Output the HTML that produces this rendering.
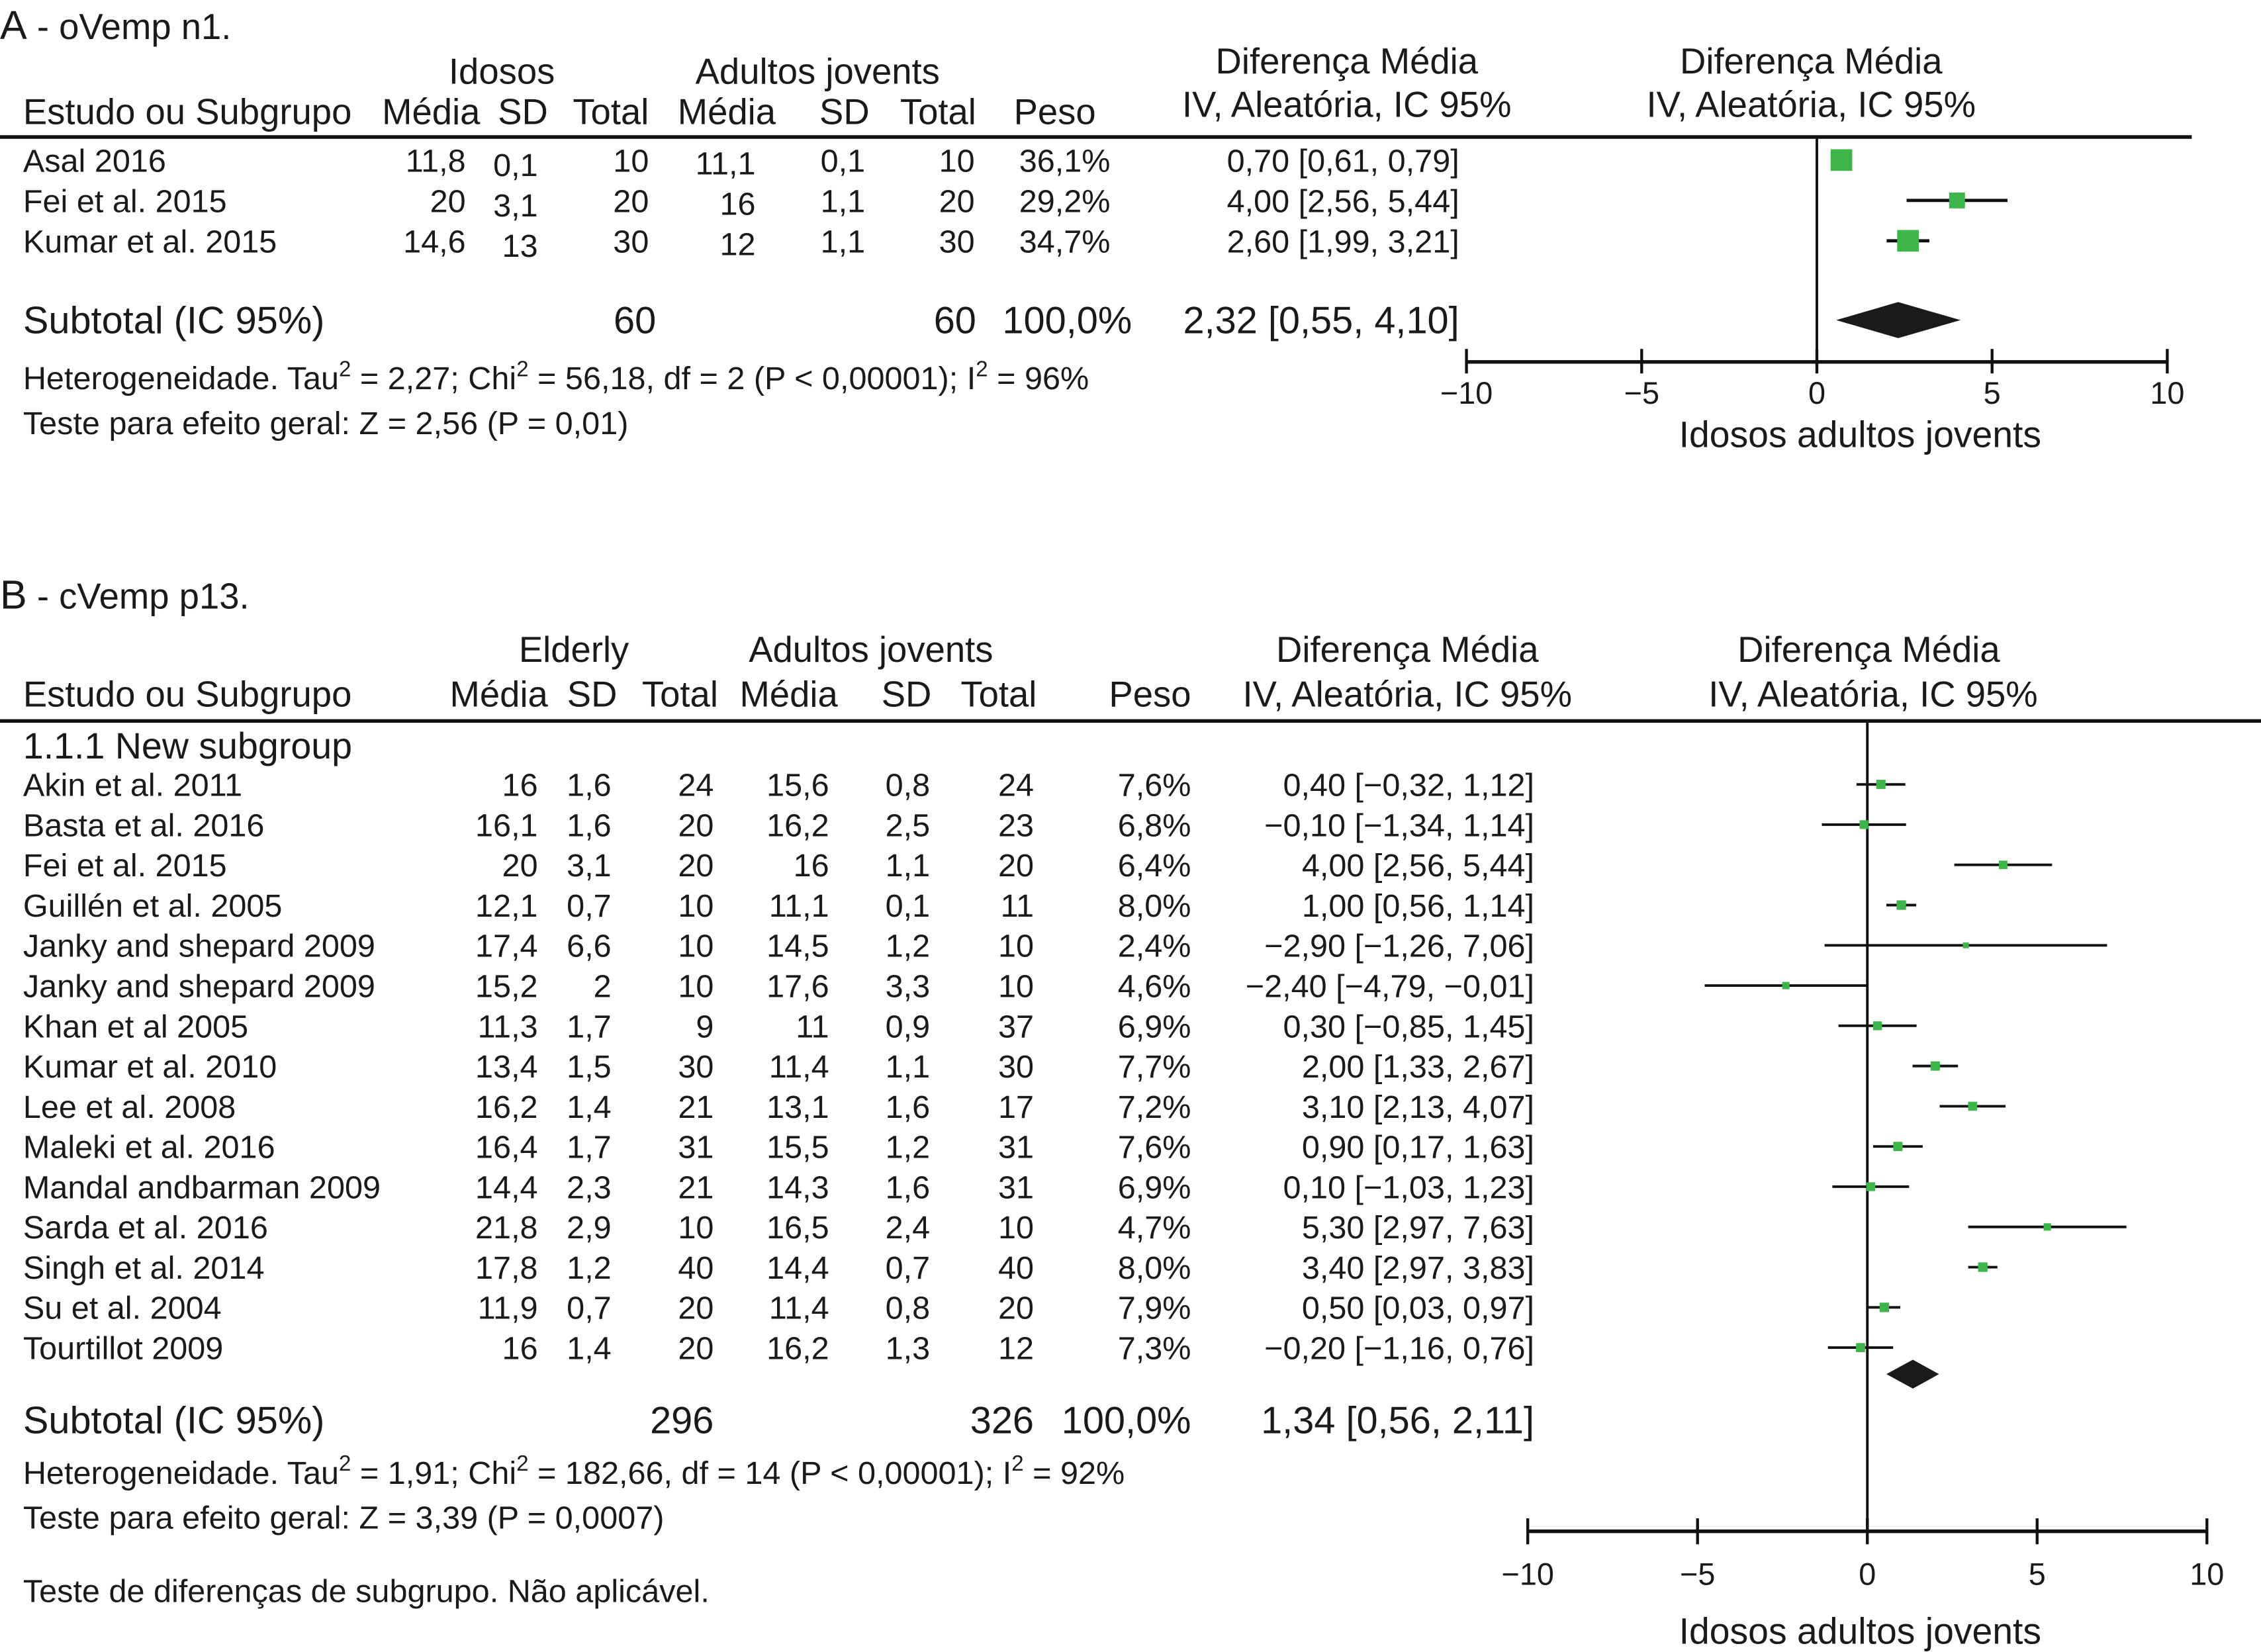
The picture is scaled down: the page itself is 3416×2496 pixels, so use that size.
<!DOCTYPE html>
<html><head><meta charset="utf-8">
<style>
html,body{margin:0;padding:0;background:#fff;}
svg{display:block;}
text{font-family:"Liberation Sans",sans-serif;fill:#1a1a1a;}
</style></head>
<body>
<svg id="chart" width="3416" height="2496" viewBox="0 0 1568 1145.7" xmlns="http://www.w3.org/2000/svg"></svg>
<script>
// ---------- Panel A data ----------
const aStudies = ["Asal 2016","Fei et al. 2015","Kumar et al. 2015"];
const aOldMean = ["11,8","20","14,6"];
const aOldSD = ["0,1","3,1","13"];
const aOldN = ["10","20","30"];
const aYoungMean = ["11,1","16","12"];
const aYoungSD = ["0,1","1,1","1,1"];
const aYoungN = ["10","20","30"];
const aWeight = ["36,1%","29,2%","34,7%"];
const aCIText = ["0,70 [0,61, 0,79]","4,00 [2,56, 5,44]","2,60 [1,99, 3,21]"];
const aMD = [0.70, 4.00, 2.60];
const aLo = [0.61, 2.56, 1.99];
const aHi = [0.79, 5.44, 3.21];
const aBox = [15, 11, 15];
const aPooled = [0.55, 2.32, 4.10];
const aTicks = [-10, -5, 0, 5, 10];
const aTickLabels = ["\u221210","\u22125","0","5","10"];

// ---------- Panel B data ----------
const bStudies = ["Akin et al. 2011","Basta et al. 2016","Fei et al. 2015","Guill\u00e9n et al. 2005","Janky and shepard 2009","Janky and shepard 2009","Khan et al 2005","Kumar et al. 2010","Lee et al. 2008","Maleki et al. 2016","Mandal andbarman 2009","Sarda et al. 2016","Singh et al. 2014","Su et al. 2004","Tourtillot 2009"];
const bOldMean = ["16","16,1","20","12,1","17,4","15,2","11,3","13,4","16,2","16,4","14,4","21,8","17,8","11,9","16"];
const bOldSD = ["1,6","1,6","3,1","0,7","6,6","2","1,7","1,5","1,4","1,7","2,3","2,9","1,2","0,7","1,4"];
const bOldN = ["24","20","20","10","10","10","9","30","21","31","21","10","40","20","20"];
const bYoungMean = ["15,6","16,2","16","11,1","14,5","17,6","11","11,4","13,1","15,5","14,3","16,5","14,4","11,4","16,2"];
const bYoungSD = ["0,8","2,5","1,1","0,1","1,2","3,3","0,9","1,1","1,6","1,2","1,6","2,4","0,7","0,8","1,3"];
const bYoungN = ["24","23","20","11","10","10","37","30","17","31","31","10","40","20","12"];
const bWeight = ["7,6%","6,8%","6,4%","8,0%","2,4%","4,6%","6,9%","7,7%","7,2%","7,6%","6,9%","4,7%","8,0%","7,9%","7,3%"];
const bCIText = ["0,40 [\u22120,32, 1,12]","\u22120,10 [\u22121,34, 1,14]","4,00 [2,56, 5,44]","1,00 [0,56, 1,14]","\u22122,90 [\u22121,26, 7,06]","\u22122,40 [\u22124,79, \u22120,01]","0,30 [\u22120,85, 1,45]","2,00 [1,33, 2,67]","3,10 [2,13, 4,07]","0,90 [0,17, 1,63]","0,10 [\u22121,03, 1,23]","5,30 [2,97, 7,63]","3,40 [2,97, 3,83]","0,50 [0,03, 0,97]","\u22120,20 [\u22121,16, 0,76]"];
const bMD = [0.40,-0.10,4.00,1.00,2.90,-2.40,0.30,2.00,3.10,0.90,0.10,5.30,3.40,0.50,-0.20];
const bLo = [-0.32,-1.34,2.56,0.56,-1.26,-4.79,-0.85,1.33,2.13,0.17,-1.03,2.97,2.97,0.03,-1.16];
const bHi = [1.12,1.14,5.44,1.44,7.06,-0.01,1.45,2.67,4.07,1.63,1.23,7.63,3.83,0.97,0.76];
const bWeightNum = [7.6,6.8,6.4,8.0,2.4,4.6,6.9,7.7,7.2,7.6,6.9,4.7,8.0,7.9,7.3];
const bPooled = [0.56, 1.34, 2.11];
const bTicks = [-10, -5, 0, 5, 10];
const bTickLabels = ["\u221210","\u22125","0","5","10"];

const NS = "http://www.w3.org/2000/svg";
const svg = document.getElementById("chart");
function el(tag, attrs, parent){
  const e = document.createElementNS(NS, tag);
  for (const k in attrs) e.setAttribute(k, attrs[k]);
  (parent||svg).appendChild(e);
  return e;
}
function txt(x, y, s, size, anchor, name){
  const t = el("text", {x:x, y:y, "font-size":size, "text-anchor":anchor||"start"});
  t.textContent = s;
  
  
  return t;
}
function line(x1,y1,x2,y2,w,name){
  const l = el("line",{x1:x1,y1:y1,x2:x2,y2:y2,stroke:"#111","stroke-width":w});
  
  
  return l;
}
function supText(x, y, parts, size, name){
  const t = el("text",{x:x,y:y,"font-size":size});
  
  
  parts.forEach(p=>{
    const ts = el("tspan", p[1] ? {"font-size":size*0.68, dy:-9} : {"font-size":size, dy:p[2]||0}, t);
    ts.textContent = p[0];
  });
  return t;
}
const HS = 25;   // header size
const RS = 22.3; // row size
const SS = 26.5; // subtotal size
const NSZ = 22.3; // notes size

// ================= PANEL A =================
const ax = v => 1260 + v * 24.3;
{
  const t = el("text",{x:0,y:27});
  
  
  const t1 = el("tspan",{"font-size":28},t); t1.textContent="A";
  const t2 = el("tspan",{"font-size":25},t); t2.textContent=" - oVemp n1.";
}
txt(348,58,"Idosos",HS,"middle","a-group-elderly-header");
txt(567,58,"Adultos jovents",HS,"middle","a-group-young-header");
txt(934,51,"Diferença Média",HS,"middle","a-effect-header");
txt(934,81,"IV, Aleatória, IC 95%",HS,"middle","a-effect-subheader");
txt(1256,51,"Diferença Média",HS,"middle","a-plot-header");
txt(1256,81,"IV, Aleatória, IC 95%",HS,"middle","a-plot-subheader");
txt(16,86,"Estudo ou Subgrupo",HS,"start","a-study-col-header");
txt(333,86,"Média",HS,"end","a-old-mean-header");
txt(380,86,"SD",HS,"end","a-old-sd-header");
txt(450,86,"Total",HS,"end","a-old-total-header");
txt(538,86,"Média",HS,"end","a-young-mean-header");
txt(603,86,"SD",HS,"end","a-young-sd-header");
txt(677,86,"Total",HS,"end","a-young-total-header");
txt(760,86,"Peso",HS,"end","a-weight-header");
line(0,95,1520,95,2.5,"a-header-rule");
line(ax(0),95,ax(0),251,1.8,"a-zero-line");

aStudies.forEach((s,i)=>{
  const y = 119 + i*28;
  txt(16,y,s,RS,"start","a-study-name");
  txt(323,y,aOldMean[i],RS,"end","a-old-mean");
  txt(373,y+3,aOldSD[i],RS,"end","a-old-sd");
  txt(450,y,aOldN[i],RS,"end","a-old-total");
  txt(524,y+2,aYoungMean[i],RS,"end","a-young-mean");
  txt(600,y,aYoungSD[i],RS,"end","a-young-sd");
  txt(676,y,aYoungN[i],RS,"end","a-young-total");
  txt(770,y,aWeight[i],RS,"end","a-weight");
  txt(1012,y,aCIText[i],RS,"end","a-ci-text");
  const cy = y - 8;
  line(ax(aLo[i]),cy,ax(aHi[i]),cy,2.2,"a-ci-line");
  const b = aBox[i];
  const r = el("rect",{x:ax(aMD[i])-b/2,y:cy-b/2,width:b,height:b,fill:"#3db54a"});
  
  
});
txt(16,231,"Subtotal (IC 95%)",SS,"start","a-subtotal-label");
txt(455,231,"60",SS,"end","a-subtotal-old-total");
txt(677,231,"60",SS,"end","a-subtotal-young-total");
txt(785,231,"100,0%",SS,"end","a-subtotal-weight");
txt(1012,231,"2,32 [0,55, 4,10]",SS,"end","a-subtotal-ci");
{
  const cy=222, h=12.5;
  const d = el("polygon",{points:`${ax(aPooled[0])},${cy} ${ax(aPooled[1])},${cy-h} ${ax(aPooled[2])},${cy} ${ax(aPooled[1])},${cy+h}`,fill:"#1a1a1a"});
  
  
}
supText(16,270,[["Heterogeneidade. Tau"],["2",1],[" = 2,27; Chi",0,9],["2",1],[" = 56,18, df = 2 (P < 0,00001); I",0,9],["2",1],[" = 96%",0,9]],NSZ,"a-heterogeneity-text");
txt(16,301,"Teste para efeito geral: Z = 2,56 (P = 0,01)",NSZ,"start","a-overall-effect-text");
line(ax(-10),251,ax(10),251,2.5,"a-x-axis");
aTicks.forEach((v,i)=>{
  line(ax(v),242,ax(v),259,2,"a-x-tick");
  txt(ax(v),280,aTickLabels[i],21.5,"middle","a-x-tick-label");
});
txt(1290,310,"Idosos adultos jovents",25.4,"middle","a-x-axis-title");

// ================= PANEL B =================
const bx = v => 1295 + v * 23.55;
{
  const t = el("text",{x:0,y:422});
  
  
  const t1 = el("tspan",{"font-size":28},t); t1.textContent="B";
  const t2 = el("tspan",{"font-size":25},t); t2.textContent=" - cVemp p13.";
}
txt(398,459,"Elderly",HS,"middle","b-group-elderly-header");
txt(604,459,"Adultos jovents",HS,"middle","b-group-young-header");
txt(976,459,"Diferença Média",HS,"middle","b-effect-header");
txt(976,490,"IV, Aleatória, IC 95%",HS,"middle","b-effect-subheader");
txt(1296,459,"Diferença Média",HS,"middle","b-plot-header");
txt(1299,490,"IV, Aleatória, IC 95%",HS,"middle","b-plot-subheader");
txt(16,490,"Estudo ou Subgrupo",HS,"start","b-study-col-header");
txt(380,490,"Média",HS,"end","b-old-mean-header");
txt(428,490,"SD",HS,"end","b-old-sd-header");
txt(498,490,"Total",HS,"end","b-old-total-header");
txt(581,490,"Média",HS,"end","b-young-mean-header");
txt(646,490,"SD",HS,"end","b-young-sd-header");
txt(719,490,"Total",HS,"end","b-young-total-header");
txt(826,490,"Peso",HS,"end","b-weight-header");
line(0,500,1568,500,2.5,"b-header-rule");
line(bx(0),500,bx(0),1062,1.8,"b-zero-line");
txt(16,526,"1.1.1 New subgroup",25.5,"start","b-subgroup-label");

bStudies.forEach((s,i)=>{
  const y = 552 + i*27.9;
  txt(16,y,s,RS,"start","b-study-name");
  txt(373,y,bOldMean[i],RS,"end","b-old-mean");
  txt(424,y,bOldSD[i],RS,"end","b-old-sd");
  txt(495,y,bOldN[i],RS,"end","b-old-total");
  txt(575,y,bYoungMean[i],RS,"end","b-young-mean");
  txt(645,y,bYoungSD[i],RS,"end","b-young-sd");
  txt(717,y,bYoungN[i],RS,"end","b-young-total");
  txt(826,y,bWeight[i],RS,"end","b-weight");
  txt(1064,y,bCIText[i],RS,"end","b-ci-text");
  const cy = y - 8;
  line(bx(bLo[i]),cy,bx(bHi[i]),cy,1.8,"b-ci-line");
  const b = 3 + bWeightNum[i]*0.45;
  const r = el("rect",{x:bx(bMD[i])-b/2,y:cy-b/2,width:b,height:b,fill:"#3db54a"});
  
  
});
txt(16,994,"Subtotal (IC 95%)",SS,"start","b-subtotal-label");
txt(495,994,"296",SS,"end","b-subtotal-old-total");
txt(717,994,"326",SS,"end","b-subtotal-young-total");
txt(826,994,"100,0%",SS,"end","b-subtotal-weight");
txt(1064,994,"1,34 [0,56, 2,11]",SS,"end","b-subtotal-ci");
{
  const cy=953, h=10;
  const d = el("polygon",{points:`${bx(bPooled[0])},${cy} ${bx(bPooled[1])},${cy-h} ${bx(bPooled[2])},${cy} ${bx(bPooled[1])},${cy+h}`,fill:"#1a1a1a"});
  
  
}
supText(16,1029,[["Heterogeneidade. Tau"],["2",1],[" = 1,91; Chi",0,9],["2",1],[" = 182,66, df = 14 (P < 0,00001); I",0,9],["2",1],[" = 92%",0,9]],NSZ,"b-heterogeneity-text");
txt(16,1060,"Teste para efeito geral: Z = 3,39 (P = 0,0007)",NSZ,"start","b-overall-effect-text");
txt(16,1111,"Teste de diferenças de subgrupo. Não aplicável.",NSZ,"start","b-subgroup-difference-text");
line(bx(-10),1062,bx(10),1062,2.5,"b-x-axis");
bTicks.forEach((v,i)=>{
  line(bx(v),1053,bx(v),1071,2,"b-x-tick");
  txt(bx(v),1099,bTickLabels[i],21.5,"middle","b-x-tick-label");
});
txt(1290,1140,"Idosos adultos jovents",25.4,"middle","b-x-axis-title");
</script>
</body></html>
